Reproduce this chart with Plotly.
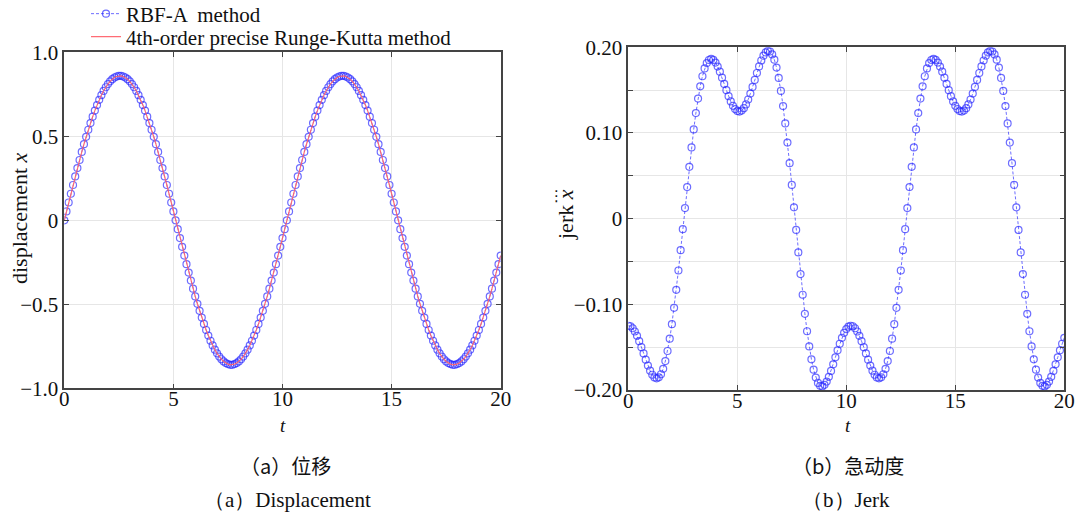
import numpy as np
import plotly.graph_objects as go

# time grid (step 0.1 s, 0..20)
t = np.round(np.arange(0, 201) * 0.1, 1)

# displacement x (RBF-A and RK overlap)
displacement = [
    0.000, 0.053, 0.106, 0.158, 0.210, 0.261, 0.311, 0.359, 0.407, 0.453,
    0.497, 0.539, 0.579, 0.617, 0.653, 0.686, 0.717, 0.745, 0.770, 0.792,
    0.811, 0.827, 0.840, 0.850, 0.856, 0.860,
    0.860, 0.856, 0.850, 0.840, 0.827, 0.811, 0.792, 0.770, 0.745, 0.717,
    0.686, 0.653, 0.617, 0.579, 0.539, 0.497, 0.453, 0.407, 0.359, 0.311,
    0.261, 0.210, 0.158, 0.106, 0.053, 0.000,
    -0.053, -0.106, -0.158, -0.210, -0.261, -0.311, -0.359, -0.407, -0.453, -0.497,
    -0.539, -0.579, -0.617, -0.653, -0.686, -0.717, -0.745, -0.770, -0.792, -0.811,
    -0.827, -0.840, -0.850, -0.856, -0.860,
    -0.860, -0.856, -0.850, -0.840, -0.827, -0.811, -0.792, -0.770, -0.745, -0.717,
    -0.686, -0.653, -0.617, -0.579, -0.539, -0.497, -0.453, -0.407, -0.359, -0.311,
    -0.261, -0.210, -0.158, -0.106, -0.053, 0.000,
    0.053, 0.106, 0.158, 0.210, 0.261, 0.311, 0.359, 0.407, 0.453, 0.497,
    0.539, 0.579, 0.617, 0.653, 0.686, 0.717, 0.745, 0.770, 0.792, 0.811,
    0.827, 0.840, 0.850, 0.856, 0.860,
    0.860, 0.856, 0.850, 0.840, 0.827, 0.811, 0.792, 0.770, 0.745, 0.717,
    0.686, 0.653, 0.617, 0.579, 0.539, 0.497, 0.453, 0.407, 0.359, 0.311,
    0.261, 0.210, 0.158, 0.106, 0.053, 0.000,
    -0.053, -0.106, -0.158, -0.210, -0.261, -0.311, -0.359, -0.407, -0.453, -0.497,
    -0.539, -0.579, -0.617, -0.653, -0.686, -0.717, -0.745, -0.770, -0.792, -0.811,
    -0.827, -0.840, -0.850, -0.856, -0.860,
    -0.860, -0.856, -0.850, -0.840, -0.827, -0.811, -0.792, -0.770, -0.745, -0.717,
    -0.686, -0.653, -0.617, -0.579, -0.539, -0.497, -0.453, -0.407, -0.359, -0.311,
    -0.261, -0.210,
]

# jerk (third derivative), RBF-A method
jerk = [
    -0.1250, -0.1256, -0.1279, -0.1317, -0.1368, -0.1430, -0.1500, -0.1573, -0.1646, -0.1715,
    -0.1775, -0.1822, -0.1853, -0.1864, -0.1852, -0.1816, -0.1753, -0.1662, -0.1545, -0.1401,
    -0.1232, -0.1041, -0.0831, -0.0605, -0.0368, -0.0123,
    0.0123, 0.0368, 0.0605, 0.0831, 0.1041, 0.1232, 0.1401, 0.1545, 0.1662, 0.1753,
    0.1816, 0.1852, 0.1864, 0.1853, 0.1822, 0.1775, 0.1715, 0.1646, 0.1573, 0.1500,
    0.1430, 0.1368, 0.1317, 0.1279, 0.1256, 0.1250,
    0.1261, 0.1289, 0.1333, 0.1391, 0.1460, 0.1537, 0.1619, 0.1700, 0.1777, 0.1846,
    0.1902, 0.1940, 0.1957, 0.1951, 0.1917, 0.1855, 0.1763, 0.1642, 0.1491, 0.1314,
    0.1111, 0.0888, 0.0647, 0.0394, 0.0132,
    -0.0132, -0.0394, -0.0647, -0.0888, -0.1111, -0.1314, -0.1491, -0.1642, -0.1763, -0.1855,
    -0.1917, -0.1951, -0.1957, -0.1940, -0.1902, -0.1846, -0.1777, -0.1700, -0.1619, -0.1537,
    -0.1460, -0.1391, -0.1333, -0.1289, -0.1261, -0.1250,
    -0.1256, -0.1279, -0.1317, -0.1368, -0.1430, -0.1500, -0.1573, -0.1646, -0.1715, -0.1775,
    -0.1822, -0.1853, -0.1864, -0.1852, -0.1816, -0.1753, -0.1662, -0.1545, -0.1401, -0.1232,
    -0.1041, -0.0831, -0.0605, -0.0368, -0.0123,
    0.0123, 0.0368, 0.0605, 0.0831, 0.1041, 0.1232, 0.1401, 0.1545, 0.1662, 0.1753,
    0.1816, 0.1852, 0.1864, 0.1853, 0.1822, 0.1775, 0.1715, 0.1646, 0.1573, 0.1500,
    0.1430, 0.1368, 0.1317, 0.1279, 0.1256, 0.1250,
    0.1261, 0.1289, 0.1333, 0.1391, 0.1460, 0.1537, 0.1619, 0.1700, 0.1777, 0.1846,
    0.1902, 0.1940, 0.1957, 0.1951, 0.1917, 0.1855, 0.1763, 0.1642, 0.1491, 0.1314,
    0.1111, 0.0888, 0.0647, 0.0394, 0.0132,
    -0.0132, -0.0394, -0.0647, -0.0888, -0.1111, -0.1314, -0.1491, -0.1642, -0.1763, -0.1855,
    -0.1917, -0.1951, -0.1957, -0.1940, -0.1902, -0.1846, -0.1777, -0.1700, -0.1619, -0.1537,
    -0.1460, -0.1391,
]

x_ticks = [0, 5, 10, 15, 20]
x_ticktext = ["0", "5", "10", "15", "20"]
disp_ticks = [-1.0, -0.5, 0.0, 0.5, 1.0]
disp_ticktext = ["\u22121.0", "\u22120.5", "0", "0.5", "1.0"]
jerk_ticks = [-0.20, -0.15, -0.10, -0.05, 0.0, 0.05, 0.10, 0.15, 0.20]
jerk_ticktext = ["\u22120.20", "", "\u22120.10", "", "0", "", "0.10", "", "0.20"]

SERIF = "Liberation Serif, Times New Roman, serif"
CJK = "Noto Sans CJK SC, Liberation Serif"
BLUE = "rgba(40,40,255,0.68)"
RED = "rgba(255,100,110,0.95)"
W, H = 1090, 513

fig = go.Figure()

fig.add_trace(go.Scatter(
    x=t, y=displacement, mode="lines+markers", name="RBF-A  method", legend="legend",
    line=dict(color=BLUE, width=1, dash="3px,2px"),
    marker=dict(symbol="circle-open", size=7, color=BLUE, line=dict(width=1.2, color=BLUE)),
    xaxis="x", yaxis="y",
))
fig.add_trace(go.Scatter(
    x=t, y=displacement, mode="lines", name="4th-order precise Runge-Kutta method",
    legend="legend2",
    line=dict(color=RED, width=1.2),
    xaxis="x", yaxis="y",
))
fig.add_trace(go.Scatter(
    x=t, y=jerk, mode="lines+markers", name="RBF-A jerk", showlegend=False,
    line=dict(color=BLUE, width=1, dash="3px,2px"),
    marker=dict(symbol="circle-open", size=7, color=BLUE, line=dict(width=1.2, color=BLUE)),
    xaxis="x2", yaxis="y2",
))

axis_common = dict(
    showline=True, linecolor="#444", linewidth=1.5, mirror="ticks",
    ticks="inside", ticklen=5, tickcolor="#444",
    showgrid=True, gridcolor="#e6e6e6", gridwidth=1, zeroline=False,
    tickfont=dict(family=SERIF, size=21, color="#111"),
    automargin=False,
)
xaxis_extra = dict(ticklabelstandoff=-9)

legend_common = dict(
    xanchor="left", yanchor="middle", bgcolor="rgba(0,0,0,0)",
    font=dict(family=SERIF, size=21, color="#111"), itemwidth=30,
)

fig.update_layout(
    width=W, height=H, autosize=False,
    margin=dict(l=0, r=0, t=0, b=0, autoexpand=False),
    paper_bgcolor="white", plot_bgcolor="white",
    showlegend=True,
    legend=dict(x=86 / W, y=1 - 14 / H, **legend_common),
    legend2=dict(x=86 / W, y=1 - 37 / H, **legend_common),
    xaxis=dict(domain=[64.3 / W, 500.7 / W], range=[0, 20], tickvals=x_ticks, ticktext=x_ticktext,
               anchor="y", **axis_common, **xaxis_extra),
    yaxis=dict(domain=[1 - 388.3 / H, 1 - 52.3 / H], range=[-1, 1], tickvals=disp_ticks,
               ticktext=disp_ticktext, anchor="x", **axis_common),
    xaxis2=dict(domain=[628.3 / W, 1064.3 / W], range=[0, 20], tickvals=x_ticks, ticktext=x_ticktext,
                anchor="y2", **axis_common, **xaxis_extra),
    yaxis2=dict(domain=[1 - 390 / H, 1 - 47.3 / H], range=[-0.2, 0.2], tickvals=jerk_ticks,
                ticktext=jerk_ticktext, anchor="x2", **axis_common),
)

annotations = [
    (19, 218, "displacement <i>x</i>", -90, 22, SERIF),
    (566, 215, "jerk <i>x</i>", -90, 22, SERIF),
    (556, 196, "\u22ee", 0, 15, "DejaVu Sans"),
    (283, 425, "<i>t</i>", 0, 19, SERIF),
    (848, 425, "<i>t</i>", 0, 19, SERIF),
]
for ax_, ay_, txt, ang, sz, fam in annotations:
    fig.add_annotation(xref="paper", yref="paper", x=ax_ / W, y=1 - ay_ / H,
                       xanchor="center", yanchor="middle", text=txt, textangle=ang,
                       showarrow=False, font=dict(family=fam, size=sz, color="#111"))

captions = [
    (285, 465, "（a）位移", CJK, 20),
    (287, 500, "（a）Displacement", SERIF, 21),
    (848, 465, "（b）急动度", CJK, 20),
    (846, 500, "（b）Jerk", SERIF, 21),
]
for cx, cy, txt, fam, sz in captions:
    fig.add_annotation(xref="paper", yref="paper", x=cx / W, y=1 - cy / H,
                       xanchor="center", yanchor="middle",
                       text=txt, showarrow=False,
                       font=dict(family=fam, size=sz, color="#111"))

fig.write_html("out.html")
